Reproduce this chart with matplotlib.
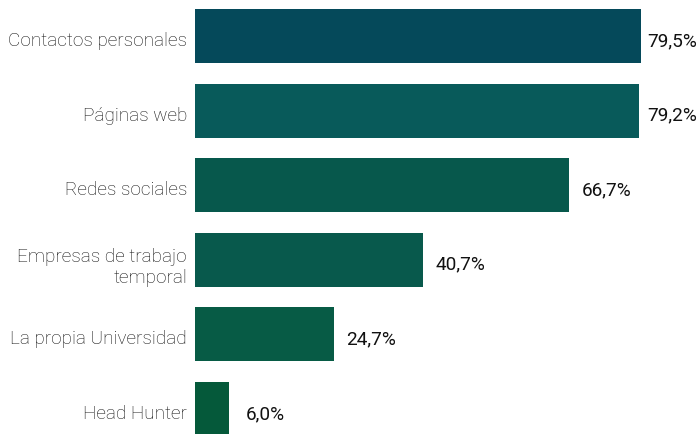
import matplotlib
matplotlib.use("Agg")
import matplotlib.pyplot as plt

categories = ["Contactos personales", "Páginas web", "Redes sociales",
              "Empresas de trabajo\ntemporal", "La propia Universidad", "Head Hunter"]
values = [79.5, 79.2, 66.7, 40.7, 24.7, 6.0]
value_labels = ["79,5%", "79,2%", "66,7%", "40,7%", "24,7%", "6,0%"]
colors = ["#05495a", "#085a5a", "#07584c", "#08594c", "#075b45", "#05593a"]

W, H = 699, 434
fig = plt.figure(figsize=(W / 100, H / 100), dpi=100)
left_px = 195
ax = fig.add_axes([left_px / W, 0, (W - left_px) / W, 1])

pitch = 74.6
top_center = 36
ypos = list(range(len(categories)))
ax.barh(ypos, values, height=54 / pitch, color=colors)

xscale = 5.61
xmax = (W - left_px) / xscale
ax.set_xlim(0, xmax)
ax.set_ylim((H - top_center) / pitch, -top_center / pitch)

off = 37 / xscale
max_center = (672 - left_px) / xscale
base_off = 10 / pitch
for y, v, lab in zip(ypos, values, value_labels):
    ax.text(min(v + off, max_center), y + base_off, lab, ha="center", va="baseline",
            fontsize=13.7, family="Roboto", color="#111111")

line_gap = 21 / pitch
for y, c in zip(ypos, categories):
    lines = c.split("\n")
    if len(lines) == 1:
        starts = [y + base_off]
    else:
        starts = [y + 2 / pitch + i * line_gap for i in range(len(lines))]
    for yy, ln in zip(starts, lines):
        ax.text(-8 / xscale, yy, ln, ha="right", va="baseline", fontsize=13.7,
                family="Roboto", fontweight="light", color="#111111",
                clip_on=False)

ax.axis("off")
fig.savefig("out.png", dpi=100)
